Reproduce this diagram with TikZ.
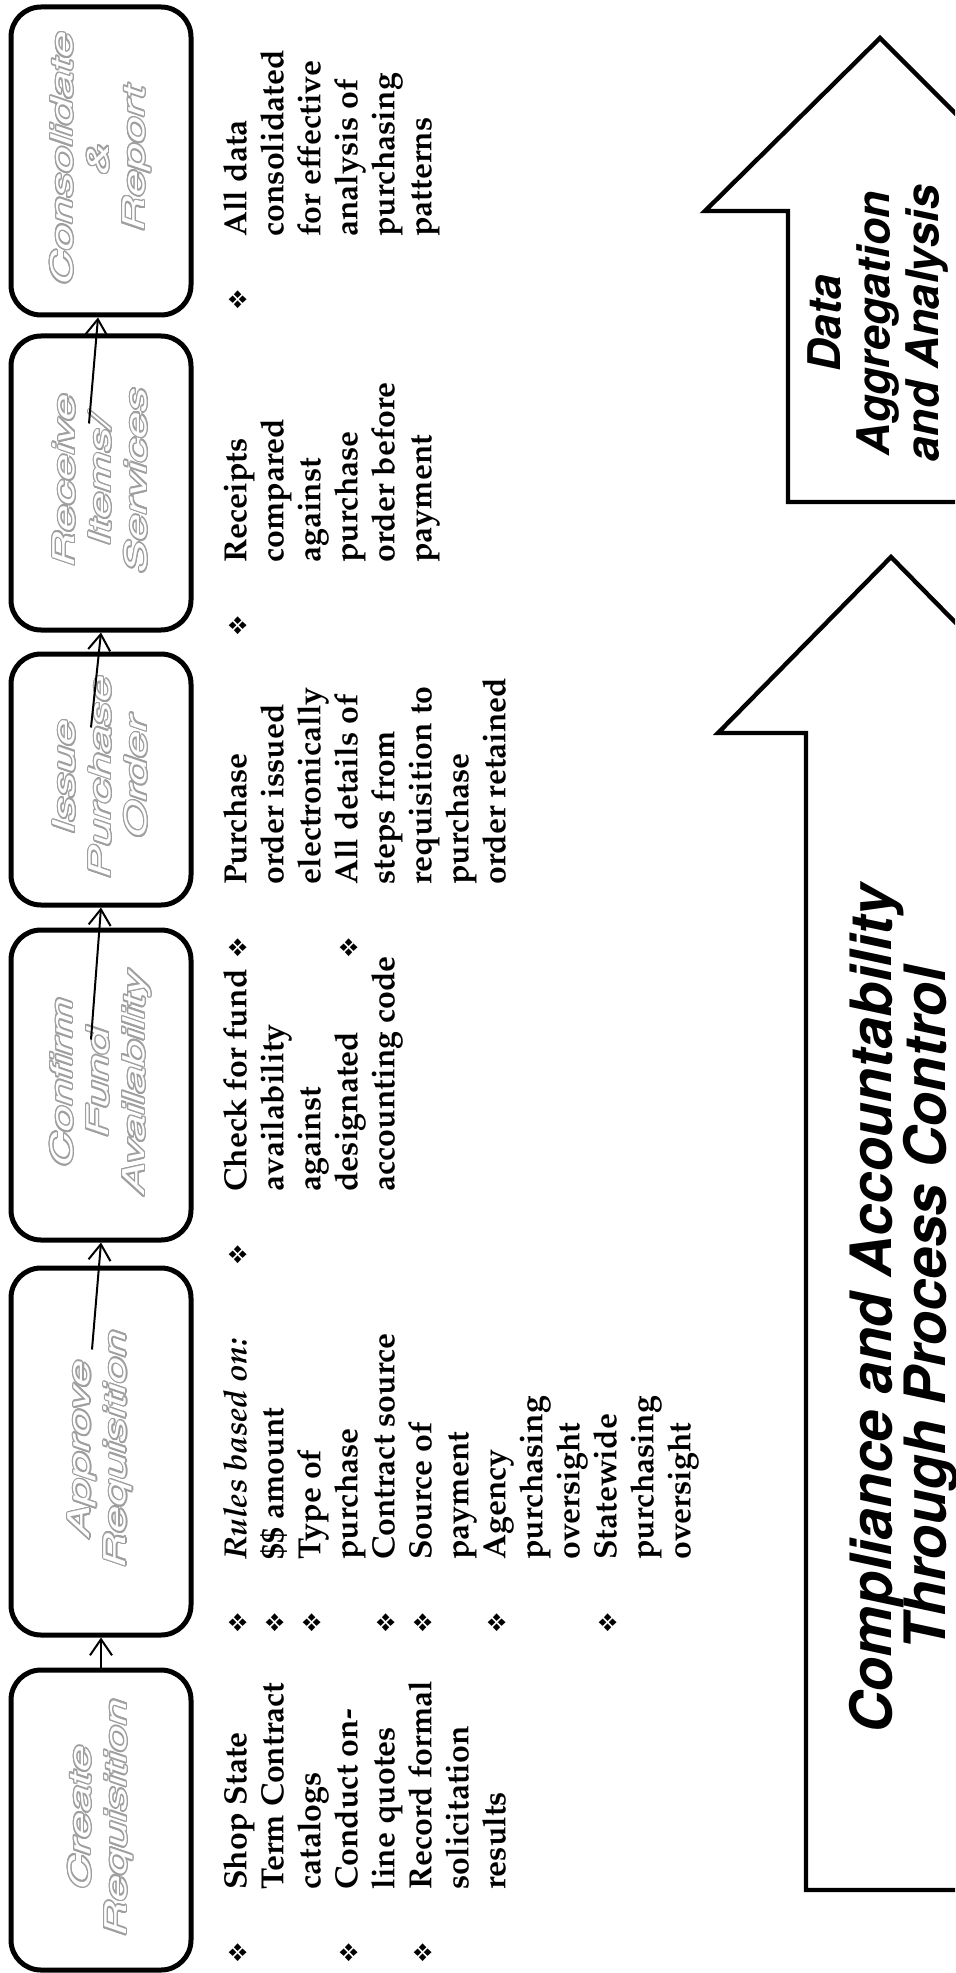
\documentclass[tikz,border=0pt]{standalone}
\usepackage[T1]{fontenc}
\renewcommand\rmdefault{ppl}
\renewcommand\sfdefault{phv}
\usepackage{pifont}
\usepackage{graphicx}
\usepackage{contour}
\contourlength{0.55pt}
\usetikzlibrary{arrows.meta,calc}
\newcommand\bul{\makebox[36.5pt][l]{\fontsize{12.5}{12}\selectfont\ding{118}}}
\newcommand\hol[1]{\scalebox{1.6}[1]{\contour{gray!75}{\textcolor{white}{#1}}}}
\tikzset{
  box/.style={draw, line width=2.5pt, rounded corners=15pt, minimum width=90pt, inner sep=0pt},
  boxtext/.style={rotate=90, align=center, inner sep=0pt,
    font=\sffamily\slshape\fontsize{15}{18}\selectfont},
  conn/.style={line width=1pt, -{Straight Barb[length=8pt,width=11pt,line width=1pt]}},
  coltext/.style={rotate=90, anchor=north west, inner sep=0pt, align=left,
    font=\rmfamily\bfseries\fontsize{16}{18.5}\selectfont},
  bigarrow/.style={draw, line width=2.2pt, line join=miter, fill=white},
  arrowtext/.style={rotate=90, align=center, inner sep=0pt}
}
\begin{document}
\begin{tikzpicture}[x=0.5pt,y=-0.5pt]
\path[use as bounding box, fill=white] (0,0) rectangle (955,1973);

% big arrows (cut by the right edge)
\begin{scope}
\clip (0,0) rectangle (955,1973);
\draw[bigarrow] (880,38) -- (1053,211) -- (968,211) -- (968,502) -- (788,502)
  -- (788,211) -- (705,211) -- cycle;
\draw[bigarrow] (891,557) -- (1064,733) -- (976,733) -- (976,1890) -- (806,1890)
  -- (806,733) -- (718,733) -- cycle;
\end{scope}
\node[arrowtext, font=\sffamily\bfseries\slshape\fontsize{22.5}{24.5}\selectfont] (dtext) at (878,325)
  {Data\\Aggregation\\and Analysis};
\node[arrowtext, font=\sffamily\bfseries\slshape\fontsize{28.5}{27}\selectfont] (ctext) at (904,1311)
  {Compliance and Accountability\\Through Process Control};

% process boxes
\node[box, minimum height=150pt]   (b1) at (101,1820) {};
\node[box, minimum height=183.5pt] (b2) at (101,1451.5) {};
\node[box, minimum height=155pt]   (b3) at (101,1085) {};
\node[box, minimum height=125.5pt] (b4) at (101,779.5) {};
\node[box, minimum height=147pt]   (b5) at (101,483) {};
\node[box, minimum height=154pt]   (b6) at (101,161) {};

\node[boxtext] (t1) at (b1) {\hol{Create}\\\hol{Requisition}};
\node[boxtext] (t2) at (b2) {\hol{Approve}\\\hol{Requisition}};
\node[boxtext] (t3) at (b3) {\hol{Confirm}\\\hol{Fund}\\\hol{Availability}};
\node[boxtext] (t4) at (b4) {\hol{Issue}\\\hol{Purchase}\\\hol{Order}};
\node[boxtext] (t5) at (b5) {\hol{Receive}\\\hol{Items/}\\\hol{Services}};
\node[boxtext] (t6) at (b6) {\hol{Consolidate}\\\hol{\&}\\\hol{Report}};

% connectors
\draw[conn] (b1.north) -- (b2.south);
\draw[conn] ($(b2.north)+(-9,84)$) -- (b3.south);
\draw[conn] ($(b3.north)+(-10,112)$) -- (b4.south);
\draw[conn] ($(b4.north)+(-10,76)$) -- (b5.south);
\draw[conn] ($(b5.north)+(-12,90)$) -- ($(b6.south)+(-3,0)$);

% descriptions
\node[coltext] (c1) at (220,1963) {\begin{tabular}{@{}l@{}l@{}}
\bul & Shop State\\ & Term Contract\\ & catalogs\\
\bul & Conduct on-\\ & line quotes\\
\bul & Record formal\\ & solicitation\\ & results
\end{tabular}};
\node[coltext] (c2) at (220,1633) {\begin{tabular}{@{}l@{}l@{}}
\bul & \textit{Rules based on:}\\
\bul & \$\$ amount\\
\bul & Type of\\ & purchase\\
\bul & Contract source\\
\bul & Source of\\ & payment\\
\bul & Agency\\ & purchasing\\ & oversight\\
\bul & Statewide\\ & purchasing\\ & oversight
\end{tabular}};
\node[coltext] (c3) at (220,1265) {\begin{tabular}{@{}l@{}l@{}}
\bul & Check for fund\\ & availability\\ & against\\ & designated\\ & accounting code
\end{tabular}};
\node[coltext] (c4) at (220,958) {\begin{tabular}{@{}l@{}l@{}}
\bul & Purchase\\ & order issued\\ & electronically\\
\bul & All details of\\ & steps from\\ & requisition to\\ & purchase\\ & order retained
\end{tabular}};
\node[coltext] (c5) at (220,636) {\begin{tabular}{@{}l@{}l@{}}
\bul & Receipts\\ & compared\\ & against\\ & purchase\\ & order before\\ & payment
\end{tabular}};
\node[coltext] (c6) at (220,310) {\begin{tabular}{@{}l@{}l@{}}
\bul & All data\\ & consolidated\\ & for effective\\ & analysis of\\ & purchasing\\ & patterns
\end{tabular}};
\end{tikzpicture}
\end{document}
